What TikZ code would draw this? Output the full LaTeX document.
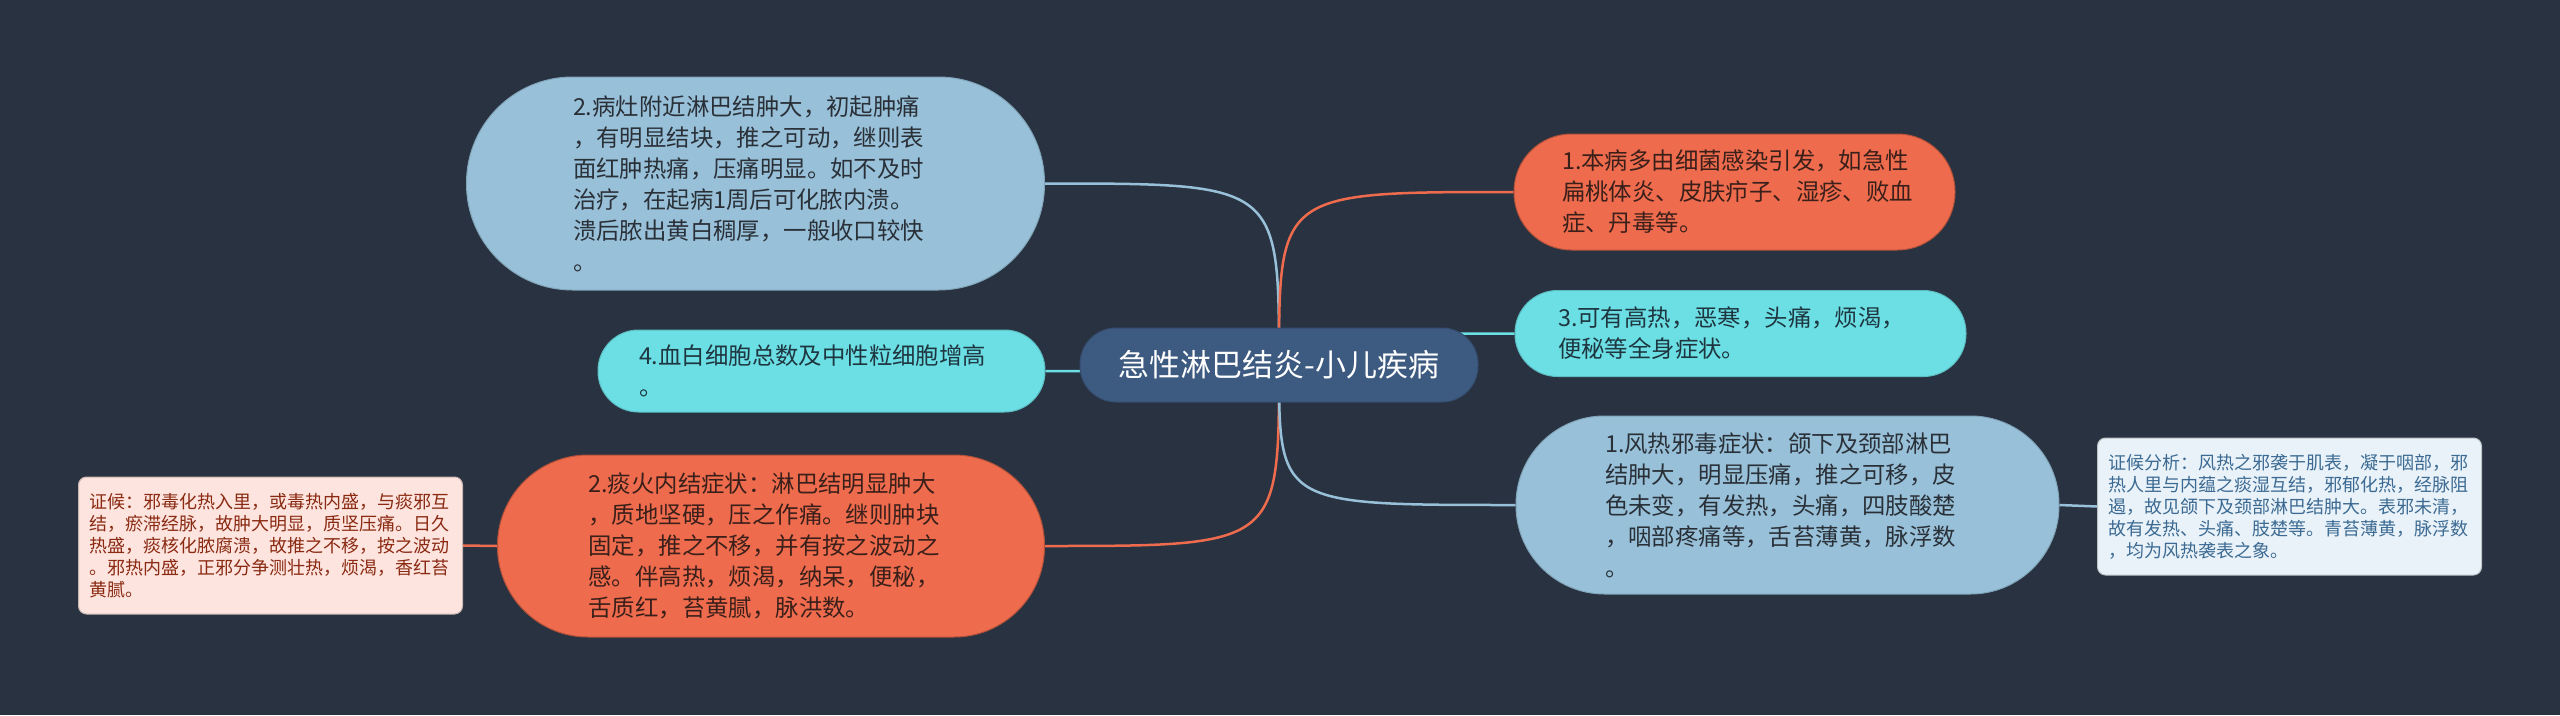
\documentclass[tikz,border=0pt]{standalone}
\usepackage{fontspec}
\setmainfont{Noto Sans CJK SC}
\definecolor{bgc}{HTML}{293241}
\definecolor{cen}{HTML}{3D5A80}
\definecolor{lb}{HTML}{98C1D9}
\definecolor{org}{HTML}{EE6C4D}
\definecolor{cya}{HTML}{6CDFE4}
\definecolor{pnk}{HTML}{FDE4DE}
\definecolor{pale}{HTML}{E9F2F8}
\definecolor{tlb}{HTML}{2A3038}
\definecolor{tor}{HTML}{3B1F1A}
\definecolor{tcy}{HTML}{1E3640}
\definecolor{tpk}{HTML}{8A2A12}
\definecolor{tpale}{HTML}{3C6A93}
\pgfdeclarelayer{bg}
\pgfsetlayers{bg,main}
\begin{document}
\begin{tikzpicture}[x=1pt,y=-1pt,
  pill/.style={rectangle, inner ysep=0pt, align=left, text width=365pt,
    font=\fontsize{23.4}{31}\selectfont, line width=1pt},
  lbn/.style={pill, fill=lb, draw=lb!85!black, text=tlb},
  orn/.style={pill, fill=org, draw=org!75!black, text=tor},
  cyn/.style={pill, fill=cya, draw=cya!85!black, text=tcy},
  note/.style={rectangle, rounded corners=8pt, inner xsep=11pt, inner ysep=0pt,
    minimum height=137pt, text width=362pt, align=left,
    font=\fontsize{18}{22}\selectfont, line width=1pt},
  link/.style={line width=2.5pt}]
\begin{pgfonlayer}{bg}
\fill[bgc] (0,0) rectangle (2560,715);
\end{pgfonlayer}
\useasboundingbox (0,0) rectangle (2560,715);

\node[fill=cen, draw=cen!85!black, line width=1pt, rounded corners=36pt,
  minimum width=398pt, minimum height=74pt, inner sep=0pt, text=white,
  font=\fontsize{31}{36}\selectfont] (c) at (1279,365) {急性淋巴结炎-小儿疾病};

\node[lbn, minimum height=213pt, inner xsep=106.5pt, rounded corners=106pt] (n2t) at (755.5,183.5)
  {2.病灶附近淋巴结肿大，初起肿痛\\，有明显结块，推之可动，继则表\\面红肿热痛，压痛明显。如不及时\\治疗，在起病1周后可化脓内溃。\\溃后脓出黄白稠厚，一般收口较快\\。};
\node[cyn, minimum height=82pt, inner xsep=41pt, rounded corners=40.5pt] (n4) at (821.5,371)
  {4.血白细胞总数及中性粒细胞增高\\。};
\node[orn, minimum height=182pt, inner xsep=91pt, rounded corners=90.5pt] (n2b) at (771,546)
  {2.痰火内结症状：淋巴结明显肿大\\，质地坚硬，压之作痛。继则肿块\\固定，推之不移，并有按之波动之\\感。伴高热，烦渴，纳呆，便秘，\\舌质红，苔黄腻，脉洪数。};
\node[orn, minimum height=116pt, text width=345pt, inner xsep=48pt, rounded corners=57.5pt] (n1t) at (1734.5,192)
  {1.本病多由细菌感染引发，如急性\\扁桃体炎、皮肤疖子、湿疹、败血\\症、丹毒等。};
\node[cyn, minimum height=86pt, inner xsep=43pt, rounded corners=42.5pt] (n3) at (1740.5,333.5)
  {3.可有高热，恶寒，头痛，烦渴，\\便秘等全身症状。};
\node[lbn, minimum height=178pt, inner xsep=89pt, rounded corners=88.5pt] (n1b) at (1787.5,505)
  {1.风热邪毒症状：颌下及颈部淋巴\\结肿大，明显压痛，推之可移，皮\\色未变，有发热，头痛，四肢酸楚\\，咽部疼痛等，舌苔薄黄，脉浮数\\。};

\node[note, fill=pnk, draw=pnk!80!black, text=tpk] (pk) at (270.5,545.5)
  {证候：邪毒化热入里，或毒热内盛，与痰邪互\\结，瘀滞经脉，故肿大明显，质坚压痛。日久\\热盛，痰核化脓腐溃，故推之不移，按之波动\\。邪热内盛，正邪分争测壮热，烦渴，香红苔\\黄腻。};
\node[note, fill=pale, draw=pale!80!black, text=tpale] (pl) at (2289.5,506.5)
  {证候分析：风热之邪袭于肌表，凝于咽部，邪\\热人里与内蕴之痰湿互结，邪郁化热，经脉阻\\遏，故见颌下及颈部淋巴结肿大。表邪未清，\\故有发热、头痛、肢楚等。青苔薄黄，脉浮数\\，均为风热袭表之象。};

\begin{pgfonlayer}{bg}
\draw[link, lb] (c.center) .. controls (c.center |- n2t.east) .. (n2t.east);
\draw[link, cya] (c.center) .. controls (c.center |- n4.east) .. (n4.east);
\draw[link, org] (c.center) .. controls (c.center |- n2b.east) .. (n2b.east);
\draw[link, org] (c.center) .. controls (c.center |- n1t.west) .. (n1t.west);
\draw[link, cya] (c.center) .. controls (c.center |- n3.west) .. (n3.west);
\draw[link, lb] (c.center) .. controls (c.center |- n1b.west) .. (n1b.west);
\draw[link, org] (n2b.west) -- (pk.east);
\draw[link, lb] (n1b.east) -- (pl.west);
\end{pgfonlayer}
\end{tikzpicture}
\end{document}
